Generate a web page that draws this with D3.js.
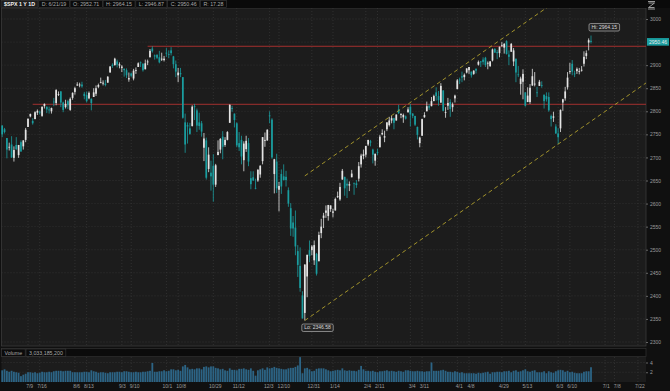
<!DOCTYPE html>
<html>
<head>
<meta charset="utf-8">
<script src="https://cdn.jsdelivr.net/npm/d3@7"></script>
<style>
  body { margin: 0; background: #0e0e0e; }
  svg { display: block; font-family: "Liberation Sans", Arial, sans-serif; }
</style>
</head>
<body>
<svg id="chart" width="670" height="391"></svg>
<script>
// trading days, one per candle
const dates = [
  "6/21/18","6/22/18","6/25/18","6/26/18","6/27/18","6/28/18","6/29/18",
  "7/2/18","7/3/18","7/5/18","7/6/18","7/9/18","7/10/18","7/11/18","7/12/18","7/13/18","7/16/18","7/17/18","7/18/18","7/19/18","7/20/18","7/23/18","7/24/18","7/25/18","7/26/18","7/27/18","7/30/18","7/31/18",
  "8/1/18","8/2/18","8/3/18","8/6/18","8/7/18","8/8/18","8/9/18","8/10/18","8/13/18","8/14/18","8/15/18","8/16/18","8/17/18","8/20/18","8/21/18","8/22/18","8/23/18","8/24/18","8/27/18","8/28/18","8/29/18","8/30/18","8/31/18",
  "9/4/18","9/5/18","9/6/18","9/7/18","9/10/18","9/11/18","9/12/18","9/13/18","9/14/18","9/17/18","9/18/18","9/19/18","9/20/18","9/21/18","9/24/18","9/25/18","9/26/18","9/27/18","9/28/18",
  "10/1/18","10/2/18","10/3/18","10/4/18","10/5/18","10/8/18","10/9/18","10/10/18","10/11/18","10/12/18","10/15/18","10/16/18","10/17/18","10/18/18","10/19/18","10/22/18","10/23/18","10/24/18","10/25/18","10/26/18","10/29/18","10/30/18","10/31/18",
  "11/1/18","11/2/18","11/5/18","11/6/18","11/7/18","11/8/18","11/9/18","11/12/18","11/13/18","11/14/18","11/15/18","11/16/18","11/19/18","11/20/18","11/21/18","11/23/18","11/26/18","11/27/18","11/28/18","11/29/18","11/30/18",
  "12/3/18","12/4/18","12/6/18","12/7/18","12/10/18","12/11/18","12/12/18","12/13/18","12/14/18","12/17/18","12/18/18","12/19/18","12/20/18","12/21/18","12/24/18","12/26/18","12/27/18","12/28/18","12/31/18",
  "1/2/19","1/3/19","1/4/19","1/7/19","1/8/19","1/9/19","1/10/19","1/11/19","1/14/19","1/15/19","1/16/19","1/17/19","1/18/19","1/22/19","1/23/19","1/24/19","1/25/19","1/28/19","1/29/19","1/30/19","1/31/19",
  "2/1/19","2/4/19","2/5/19","2/6/19","2/7/19","2/8/19","2/11/19","2/12/19","2/13/19","2/14/19","2/15/19","2/19/19","2/20/19","2/21/19","2/22/19","2/25/19","2/26/19","2/27/19","2/28/19",
  "3/1/19","3/4/19","3/5/19","3/6/19","3/7/19","3/8/19","3/11/19","3/12/19","3/13/19","3/14/19","3/15/19","3/18/19","3/19/19","3/20/19","3/21/19","3/22/19","3/25/19","3/26/19","3/27/19","3/28/19","3/29/19",
  "4/1/19","4/2/19","4/3/19","4/4/19","4/5/19","4/8/19","4/9/19","4/10/19","4/11/19","4/12/19","4/15/19","4/16/19","4/17/19","4/18/19","4/22/19","4/23/19","4/24/19","4/25/19","4/26/19","4/29/19","4/30/19",
  "5/1/19","5/2/19","5/3/19","5/6/19","5/7/19","5/8/19","5/9/19","5/10/19","5/13/19","5/14/19","5/15/19","5/16/19","5/17/19","5/20/19","5/21/19","5/22/19","5/23/19","5/24/19","5/28/19","5/29/19","5/30/19","5/31/19",
  "6/3/19","6/4/19","6/5/19","6/6/19","6/7/19","6/10/19","6/11/19","6/12/19","6/13/19","6/14/19","6/17/19","6/18/19","6/19/19","6/20/19","6/21/19"
];

// empty sessions to the right of the last candle
const futureDates = [
  "6/24/19","6/25/19","6/26/19","6/27/19","6/28/19","7/1/19","7/2/19","7/3/19","7/5/19",
  "7/8/19","7/9/19","7/10/19","7/11/19","7/12/19","7/15/19","7/16/19","7/17/19","7/18/19","7/19/19","7/22/19","7/23/19"
];

// [open, high, low, close]
const ohlc = [
  [2769,2770,2744,2750],[2761,2764,2752,2755],[2742,2742,2698,2717],[2722,2732,2715,2723],[2728,2746,2699,2700],[2699,2724,2691,2716],[2727,2744,2716,2718],
  [2705,2727,2699,2727],[2733,2737,2712,2713],[2724,2737,2717,2737],[2738,2764,2733,2760],[2766,2784,2766,2784],[2789,2795,2787,2794],[2779,2785,2771,2774],[2783,2800,2783,2798],[2797,2804,2792,2801],[2799,2801,2793,2798],[2790,2810,2788,2810],[2811,2817,2806,2816],[2810,2810,2796,2804],[2804,2810,2795,2802],[2800,2808,2795,2807],[2821,2829,2811,2820],[2818,2848,2813,2846],[2836,2843,2833,2837],[2843,2844,2809,2819],[2819,2821,2798,2803],[2809,2825,2806,2816],
  [2822,2825,2805,2813],[2803,2830,2801,2827],[2829,2841,2825,2840],[2842,2853,2836,2850],[2856,2863,2855,2858],[2856,2862,2852,2858],[2858,2864,2851,2854],[2838,2842,2826,2833],[2835,2843,2819,2822],[2828,2843,2826,2840],[2827,2828,2802,2818],[2831,2850,2831,2841],[2838,2856,2833,2850],[2853,2860,2850,2857],[2861,2873,2861,2863],[2860,2867,2856,2862],[2860,2868,2854,2857],[2862,2876,2862,2875],[2884,2898,2884,2897],[2901,2904,2894,2898],[2900,2916,2899,2914],[2908,2912,2895,2901],[2899,2906,2893,2902],
  [2894,2900,2885,2897],[2892,2893,2875,2889],[2889,2893,2872,2878],[2869,2884,2864,2872],[2882,2884,2874,2877],[2871,2892,2867,2888],[2888,2895,2881,2889],[2896,2906,2896,2904],[2906,2908,2896,2905],[2903,2904,2886,2889],[2891,2912,2891,2904],[2906,2912,2900,2908],[2917,2935,2917,2931],[2936,2940.91,2927,2930],[2921,2923,2912,2919],[2922,2924,2913,2916],[2917,2931,2904,2906],[2912,2927,2909,2914],[2911,2920,2908,2914],
  [2927,2937,2918,2925],[2924,2932,2915,2923],[2932,2939,2921,2926],[2919,2920,2893,2902],[2902,2910,2874,2886],[2878,2894,2863,2884],[2883,2894,2874,2880],[2874,2874,2784,2786],[2776,2795,2710,2728],[2770,2776,2730,2767],[2763,2775,2749,2751],[2768,2813,2767,2810],[2811,2816,2781,2809],[2802,2806,2755,2769],[2776,2797,2760,2768],[2774,2779,2745,2756],[2721,2753,2692,2741],[2737,2743,2652,2656],[2675,2722,2668,2706],[2667,2693,2628,2659],[2682,2707,2604,2641],[2641,2686,2636,2683],[2705,2737,2705,2712],
  [2717,2742,2709,2740],[2745,2757,2696,2723],[2727,2744,2723,2738],[2738,2757,2737,2755],[2775,2815,2775,2814],[2807,2812,2799,2806],[2795,2795,2765,2781],[2774,2776,2722,2726],[2731,2755,2714,2722],[2738,2747,2685,2702],[2694,2735,2670,2730],[2718,2747,2712,2736],[2731,2742,2681,2691],[2655,2670,2631,2642],[2657,2670,2649,2650],[2634,2654,2631,2633],[2650,2675,2647,2673],[2663,2683,2656,2682],[2692,2744,2685,2744],[2736,2754,2723,2738],[2737,2761,2736,2760],
  [2791,2800,2774,2790],[2782,2785,2697,2700],[2664,2697,2622,2696],[2691,2708,2623,2633],[2630,2647,2583,2638],[2664,2674,2621,2637],[2659,2685,2650,2651],[2658,2671,2637,2651],[2629,2635,2593,2600],[2590,2601,2530,2546],[2559,2573,2528,2546],[2548,2585,2488,2507],[2497,2510,2441,2467],[2465,2505,2409,2417],[2401,2410,2351,2351],[2363,2468,2346.58,2468],[2442,2489,2397,2489],[2499,2520,2473,2486],[2499,2510,2488,2507],
  [2477,2520,2467,2510],[2491,2493,2444,2448],[2475,2539,2475,2532],[2536,2567,2525,2550],[2569,2580,2547,2574],[2580,2596,2569,2585],[2573,2597,2563,2597],[2588,2596,2582,2596],[2580,2589,2570,2583],[2585,2613,2585,2610],[2614,2626,2612,2616],[2609,2645,2606,2636],[2652,2675,2652,2671],[2658,2658,2617,2633],[2643,2654,2612,2639],[2639,2648,2627,2642],[2657,2673,2657,2665],[2645,2645,2619,2644],[2644,2651,2634,2640],[2654,2690,2648,2681],[2685,2708,2678,2704],
  [2703,2717,2696,2707],[2706,2725,2700,2725],[2728,2738,2725,2738],[2735,2738,2724,2732],[2717,2719,2687,2706],[2693,2708,2682,2708],[2712,2719,2705,2710],[2722,2749,2722,2745],[2750,2761,2748,2753],[2743,2758,2733,2746],[2761,2776,2757,2776],[2770,2788,2767,2780],[2780,2790,2774,2785],[2785,2786,2761,2775],[2780,2793,2780,2793],[2804,2814,2794,2796],[2792,2796,2785,2794],[2787,2795,2775,2792],[2789,2791,2782,2784],
  [2798,2809,2797,2804],[2810,2816,2767,2793],[2795,2796,2785,2790],[2790,2790,2768,2771],[2766,2767,2739,2749],[2731,2745,2722,2743],[2747,2784,2747,2783],[2787,2798,2786,2792],[2800,2821,2800,2811],[2811,2816,2803,2808],[2811,2831,2811,2822],[2822,2836,2822,2833],[2841,2852,2823,2833],[2833,2844,2812,2824],[2819,2861,2818,2855],[2845,2846,2800,2801],[2797,2809,2786,2798],[2812,2829,2803,2818],[2820,2826,2788,2805],[2809,2819,2799,2815],[2828,2836,2819,2834],
  [2848,2870,2848,2867],[2869,2873,2859,2867],[2876,2886,2863,2873],[2874,2882,2867,2879],[2884,2893,2882,2893],[2889,2896,2881,2896],[2886,2886,2873,2878],[2881,2889,2879,2888],[2892,2893,2882,2888],[2901,2910,2899,2907],[2908,2909,2896,2906],[2912,2917,2901,2907],[2916,2918,2896,2900],[2904,2908,2891,2905],[2898,2909,2896,2908],[2910,2936,2908,2934],[2935,2937,2927,2927],[2928,2933,2913,2926],[2926,2940,2917,2940],[2941,2950,2940,2943],[2938,2948,2925,2946],
  [2952,2954,2923,2924],[2923,2932,2900,2918],[2929,2948,2929,2946],[2908,2937,2898,2932],[2914,2914,2863,2884],[2880,2898,2874,2879],[2859,2875,2836,2871],[2864,2891,2826,2881],[2841,2841,2810,2812],[2820,2852,2820,2834],[2820,2859,2816,2851],[2856,2892,2855,2876],[2858,2885,2854,2860],[2841,2853,2831,2840],[2855,2868,2855,2864],[2857,2865,2851,2856],[2836,2836,2806,2822],[2833,2841,2821,2826],[2831,2841,2799,2802],[2790,2793,2767,2783],[2786,2799,2777,2789],[2767,2772,2751,2752],
  [2752,2763,2728.81,2744],[2763,2804,2755,2803],[2819,2827,2801,2826],[2828,2853,2823,2843],[2852,2885,2847,2873],[2885,2905,2881,2887],[2903,2911,2878,2886],[2882,2888,2874,2880],[2887,2895,2881,2892],[2886,2894,2880,2887],[2888,2898,2886,2890],[2903,2930,2897,2918],[2920,2932,2913,2926],[2949,2958,2932,2954],[2952.71,2964.15,2946.87,2950.46]
];

// volume, billions of shares
const volumes = [
  2.4,2.6,2.3,2.1,2.3,2.1,2.0,
  1.9,1.2,1.5,1.7,2.0,2.0,1.9,2.0,1.8,1.9,2.1,2.0,2.0,2.1,2.0,2.2,2.3,2.3,2.3,2.2,2.3,
  2.3,2.3,2.0,2.0,2.0,2.0,2.0,2.1,2.1,2.0,2.4,2.2,2.1,1.9,2.0,2.0,1.9,1.8,2.0,2.0,2.0,2.1,2.1,
  2.0,2.2,2.2,2.1,2.0,2.0,2.1,2.0,2.0,2.1,2.1,2.2,2.3,3.9,2.1,2.1,2.2,2.2,2.4,
  2.2,2.3,2.6,2.6,2.4,2.5,2.3,3.2,3.5,3.0,2.6,2.7,2.6,2.8,2.8,2.6,3.1,3.2,3.0,3.2,3.2,2.9,2.8,
  2.6,2.7,2.4,2.3,2.8,2.5,2.5,2.4,2.7,2.7,2.8,2.6,2.5,2.8,2.3,1.3,2.4,2.6,2.8,2.5,3.0,
  2.8,2.9,3.1,2.9,2.8,2.7,2.6,2.6,2.8,2.9,2.9,3.1,3.4,5.1,1.8,2.8,2.9,2.6,2.2,
  2.3,2.7,2.8,2.8,2.8,2.6,2.4,2.2,2.3,2.4,2.5,2.4,2.8,2.4,2.3,2.4,2.3,2.3,2.2,2.5,3.3,
  2.6,2.3,2.3,2.2,2.3,2.1,2.0,2.2,2.2,2.3,2.4,2.2,2.3,2.2,2.1,2.3,2.2,2.1,2.4,
  2.4,2.3,2.2,2.2,2.3,2.2,2.2,2.1,2.2,2.2,4.0,2.3,2.3,2.3,2.4,2.5,2.3,2.1,2.1,2.0,2.2,
  2.1,1.9,2.0,1.8,1.8,1.8,1.8,1.8,1.7,1.9,1.8,1.9,2.0,2.1,1.7,2.0,2.0,2.1,2.1,2.0,2.2,
  2.2,2.3,2.0,2.3,2.4,2.1,2.2,2.4,2.6,2.2,2.1,2.3,2.4,2.0,2.0,2.0,2.2,1.8,2.2,2.0,1.9,2.2,
  2.4,2.5,2.4,2.1,2.3,2.0,2.1,1.9,1.8,1.8,1.8,2.1,2.2,2.2,3.03
];

const priceTicks = d3.range(2300, 3001, 50);
const volumeTicks = [2, 4];
const tickBars = ["7/9/18","7/16/18","8/6/18","8/13/18","9/4/18","9/10/18","10/1/18","10/8/18","10/29/18","11/12/18","12/3/18","12/10/18","12/31/18","1/14/19","2/4/19","2/11/19","3/4/19","3/11/19","4/1/19","4/8/19","4/29/19","5/13/19","6/3/19","6/10/19","7/1/19","7/8/19","7/22/19"];
const tickLabels = ["7/9","7/16","8/6","8/13","9/3","9/10","10/1","10/8","10/29","11/12","12/3","12/10","12/31","1/14","2/4","2/11","3/4","3/11","4/1","4/8","4/29","5/13","6/3","6/10","7/1","7/8","7/22"];

// horizontal levels (price, first bar) and the two trend channel lines
const levels = [2940.91, 2815.15];
const levelFrom = ["9/19/18", "7/11/18"];
const lowerChannel = [["12/26/18", 2346.58], ["6/3/19", 2728.81]];
const upperChannel = [["12/26/18", 2660], ["5/1/19", 2964]];

const volumeText = "3,033,185,200";
const symbolText = "$SPX 1 Y 1D";

// ---------------------------------------------------------------
const W = 670, H = 391;
const plot = { left: 1.5, right: 646, top: 0, bottom: 346 };
const vol = { top: 357, bottom: 382 };
const upColor = "#e4e4e4", downColor = "#1a9d9f";
const gridColor = "#3a3a3a", axisText = "#9c9c9c";
const fmt = d3.format(".2f");

const svg = d3.select("#chart");
const allDates = dates.concat(futureDates);
const idx = s => allDates.indexOf(s);

const x = d3.scaleLinear()
  .domain([idx("7/9/18"), idx("6/21/19")])
  .range([28, 591]);
const y = d3.scaleLinear().domain([2300, 3000]).range([342, 19]);
const yVol = d3.scaleLinear().domain([0, 4]).range([vol.bottom, 362.5]);

const bars = dates.map((d, i) => ({
  i, date: d, o: ohlc[i][0], h: ohlc[i][1], l: ohlc[i][2], c: ohlc[i][3], v: volumes[i]
}));
const col = d => (d.c >= d.o ? upColor : downColor);
const last = bars[bars.length - 1];

// backgrounds
svg.append("rect").attr("width", W).attr("height", H).attr("fill", "#101010");
svg.append("rect")
  .attr("x", plot.left).attr("y", 8)
  .attr("width", plot.right - plot.left).attr("height", plot.bottom - 8)
  .attr("fill", "#1c1c1c").attr("stroke", "#3a3a3a").attr("stroke-width", 0.8);
svg.append("rect")
  .attr("x", plot.left).attr("y", vol.top)
  .attr("width", plot.right - plot.left).attr("height", vol.bottom - vol.top)
  .attr("fill", "#1c1c1c");
svg.append("rect")
  .attr("x", plot.left).attr("y", 348.5)
  .attr("width", plot.right - plot.left).attr("height", 8)
  .attr("fill", "#0b0b0b").attr("stroke", "#333").attr("stroke-width", 0.7);

svg.append("clipPath").attr("id", "clip")
  .append("rect").attr("x", plot.left).attr("y", 0)
  .attr("width", plot.right - plot.left).attr("height", plot.bottom);

// grid
const grid = svg.append("g")
  .attr("stroke", gridColor).attr("stroke-width", 0.7).attr("stroke-dasharray", "1,2");
grid.selectAll("line.h").data(priceTicks).join("line")
  .attr("x1", plot.left).attr("x2", plot.right)
  .attr("y1", d => y(d)).attr("y2", d => y(d));
grid.selectAll("line.v").data(tickBars).join("line")
  .attr("x1", d => x(idx(d))).attr("x2", d => x(idx(d)))
  .attr("y1", 8).attr("y2", plot.bottom);
grid.selectAll("line.vv").data(tickBars).join("line")
  .attr("x1", d => x(idx(d))).attr("x2", d => x(idx(d)))
  .attr("y1", vol.top).attr("y2", vol.bottom);
grid.selectAll("line.hv").data(volumeTicks).join("line")
  .attr("x1", plot.left).attr("x2", plot.right)
  .attr("y1", d => yVol(d)).attr("y2", d => yVol(d));

// red support / resistance levels
svg.append("g").selectAll("line").data(levels).join("line")
  .attr("x1", (d, i) => x(idx(levelFrom[i]))).attr("x2", plot.right)
  .attr("y1", d => y(d)).attr("y2", d => y(d))
  .attr("stroke", "#a3302e").attr("stroke-width", 1);

// candles
const cg = svg.append("g");
cg.selectAll("line").data(bars).join("line")
  .attr("x1", d => x(d.i)).attr("x2", d => x(d.i))
  .attr("y1", d => y(d.h)).attr("y2", d => y(d.l))
  .attr("stroke", col).attr("stroke-width", 0.8);
cg.selectAll("rect").data(bars).join("rect")
  .attr("x", d => x(d.i) - 0.85).attr("width", 1.7)
  .attr("y", d => y(Math.max(d.o, d.c)))
  .attr("height", d => Math.max(0.8, Math.abs(y(d.o) - y(d.c))))
  .attr("fill", col);

// trend channel
function channelLine(pts) {
  const i0 = idx(pts[0][0]), i1 = idx(pts[1][0]);
  const slope = (pts[1][1] - pts[0][1]) / (i1 - i0);
  const iEnd = x.invert(plot.right);
  return [[x(i0), y(pts[0][1])], [x(iEnd), y(pts[0][1] + slope * (iEnd - i0))]];
}
svg.append("g").attr("clip-path", "url(#clip)")
  .selectAll("path").data([lowerChannel, upperChannel]).join("path")
  .attr("d", d => d3.line()(channelLine(d)))
  .attr("fill", "none").attr("stroke", "#b09f2c").attr("stroke-width", 0.9)
  .attr("stroke-dasharray", "4,3");

// volume bars
svg.append("g").selectAll("rect").data(bars).join("rect")
  .attr("x", d => x(d.i) - 0.9).attr("width", 1.8)
  .attr("y", d => yVol(d.v)).attr("height", d => yVol(0) - yVol(d.v))
  .attr("fill", "#2c6485");

// hi / lo bubbles
const hiBar = bars.reduce((a, b) => (b.h > a.h ? b : a));
const loBar = bars.reduce((a, b) => (b.l < a.l ? b : a));
function bubble(text, bx, by) {
  const g = svg.append("g");
  const t = g.append("text").attr("x", bx + 2.5).attr("y", by + 5.3)
    .attr("font-size", 5).attr("fill", "#d8d8d8").text(text);
  const w = t.node().getComputedTextLength() + 5;
  g.insert("rect", "text").attr("x", bx).attr("y", by)
    .attr("width", w).attr("height", 7.5).attr("rx", 1.5)
    .attr("fill", "#262626").attr("stroke", "#c8c8c8").attr("stroke-width", 0.6);
}
bubble("Hi: " + fmt(hiBar.h), x(hiBar.i) - 2, y(hiBar.h) - 12);
bubble("Lo: " + fmt(loBar.l), x(loBar.i) - 3, y(loBar.l) + 3.5);

// right price axis (the label under the last-price tag is hidden, as in the platform)
const shownTicks = priceTicks.filter(t => Math.abs(y(t) - y(last.c)) > 6);
const axisG = svg.append("g").attr("transform", `translate(${plot.right},0)`)
  .call(d3.axisRight(y).tickValues(shownTicks).tickSize(2).tickPadding(2).tickFormat(d3.format("d")));
axisG.select(".domain").remove();
axisG.selectAll("line").attr("stroke", "#666");
axisG.selectAll("text").attr("font-size", 5).attr("fill", axisText).attr("font-family", null);

// last price tag
svg.append("rect").attr("x", plot.right + 1).attr("y", y(last.c) - 3.8)
  .attr("width", 22).attr("height", 7.6).attr("fill", downColor);
svg.append("text").attr("x", plot.right + 3).attr("y", y(last.c) + 1.8)
  .attr("font-size", 5).attr("fill", "#eaeaea").text(fmt(last.c));

// volume axis
const vAxis = svg.append("g").attr("transform", `translate(${plot.right},0)`)
  .call(d3.axisRight(yVol).tickValues(volumeTicks).tickSize(2).tickPadding(2).tickFormat(d3.format("d")));
vAxis.select(".domain").remove();
vAxis.selectAll("line").attr("stroke", "#666");
vAxis.selectAll("text").attr("font-size", 5).attr("fill", axisText).attr("font-family", null);

// date labels, nudged apart where two weekly labels would collide
const dateItems = tickBars.map((d, k) => ({ cx: x(idx(d)) + 2, label: tickLabels[k] }));
const dateText = svg.append("g").selectAll("text").data(dateItems).join("text")
  .attr("x", d => d.cx).attr("y", vol.bottom + 6.3)
  .attr("text-anchor", "middle").attr("font-size", 5).attr("fill", axisText)
  .text(d => d.label);
dateText.each(function (d) { d.w = this.getComputedTextLength(); });
for (let pass = 0; pass < 6; pass++) {
  for (let k = 1; k < dateItems.length; k++) {
    const a = dateItems[k - 1], b = dateItems[k];
    const gap = (b.cx - b.w / 2) - (a.cx + a.w / 2);
    if (gap < 4) { a.cx -= (4 - gap) / 2; b.cx += (4 - gap) / 2; }
  }
}
dateText.attr("x", d => d.cx);

// header rows of boxed labels
function boxRow(labels, yTop, x0, firstBold) {
  let cx = x0;
  labels.forEach((s, k) => {
    const bold = k === 0 && firstBold;
    const g = svg.append("g");
    const t = g.append("text").attr("x", cx + 3).attr("y", yTop + 5.6)
      .attr("font-size", 5.3).attr("fill", bold ? "#f2f2f2" : "#a8a8a8")
      .attr("font-weight", bold ? "bold" : null).text(s);
    const w = t.node().getComputedTextLength() + 6;
    g.insert("rect", "text").attr("x", cx).attr("y", yTop)
      .attr("width", w).attr("height", 7.3)
      .attr("fill", bold ? "#1d1d1d" : "#0b0b0b")
      .attr("stroke", "#3c3c3c").attr("stroke-width", 0.6);
    cx += w + 0.8;
  });
}
boxRow(["Volume", volumeText], 349, 1.5, false);

svg.append("rect").attr("width", W).attr("height", 8).attr("fill", "#0a0a0a");
boxRow([
  symbolText,
  "D: " + last.date,
  "O: " + fmt(last.o),
  "H: " + fmt(last.h),
  "L: " + fmt(last.l),
  "C: " + fmt(last.c),
  "R: " + fmt(last.h - last.l)
], 0.3, 1, true);

// small zoom icon top right
svg.append("path")
  .attr("d", "M648,1.5 H655 M648.5,3 H654.5 L648.5,7.5 H654.5 M648,9 H655")
  .attr("fill", "none").attr("stroke", "#bbbbbb").attr("stroke-width", 0.8);
</script>
</body>
</html>
